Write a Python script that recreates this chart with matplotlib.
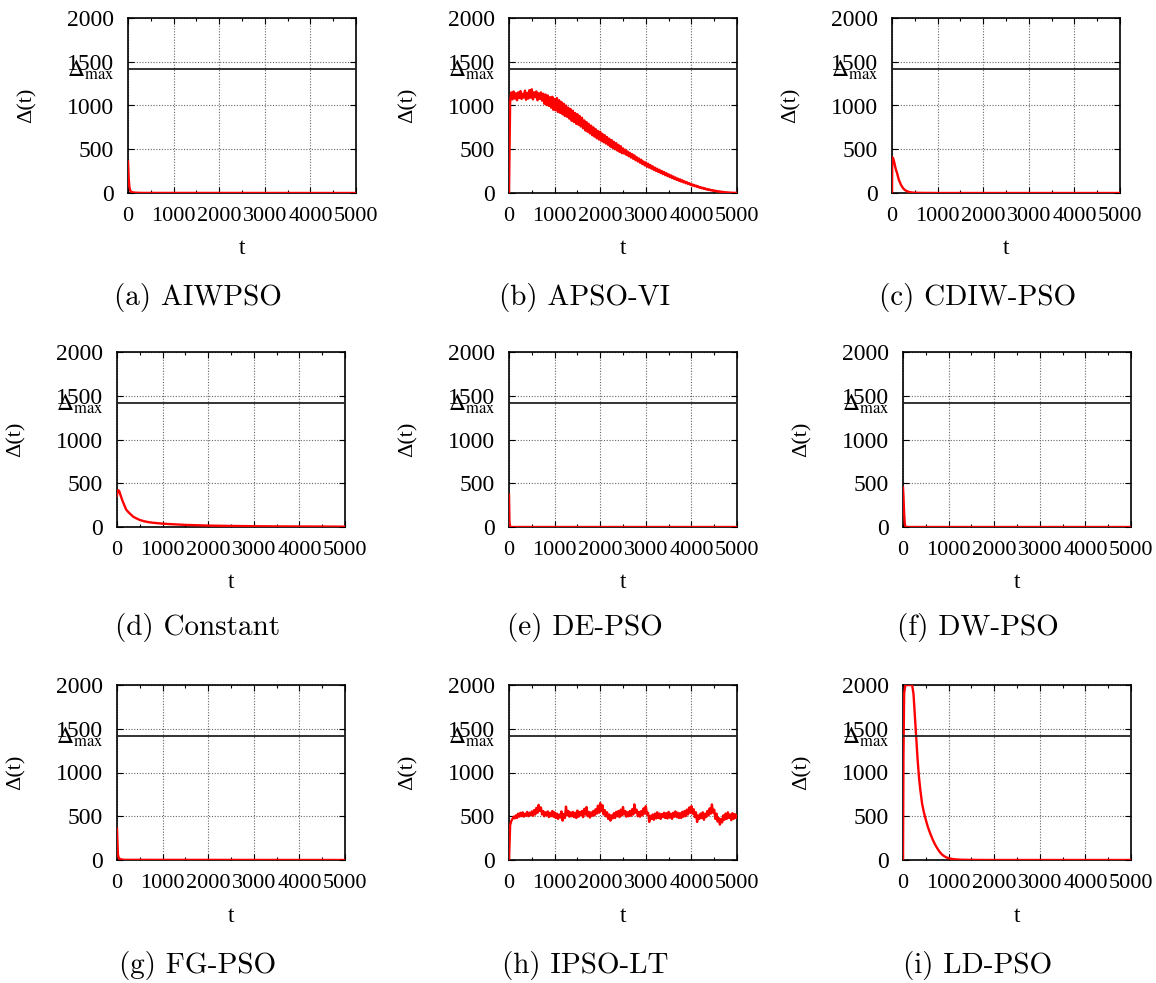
import matplotlib.pyplot as plt
from matplotlib.ticker import MultipleLocator
import numpy as np

# panel names (captions)
captions = ['(a) AIWPSO', '(b) APSO-VI', '(c) CDIW-PSO',
            '(d) Constant', '(e) DE-PSO', '(f) DW-PSO',
            '(g) FG-PSO', '(h) IPSO-LT', '(i) LD-PSO']

delta_max = 1414

# values, one (t, delta) pair of lists per panel
t_a = [0, 5, 15, 30, 50, 80, 150, 300, 5000]
d_a = [360, 300, 170, 70, 25, 10, 4, 1, 0]

# APSO-VI is sampled every 25 iterations
t_b = list(range(0, 5001, 25))
d_b = [0, 1040, 1150, 1070, 1160, 1080, 1140, 1060, 1150, 1085,
       1165, 1075, 1135, 1090, 1170, 1065, 1145, 1080, 1175, 1090,
       1185, 1070, 1150, 1095, 1160, 1060, 1140, 1075, 1150, 1055,
       1135, 1020, 1125, 1005, 1115, 995, 1095, 975, 1100, 950,
       1075, 945, 1085, 925, 1060, 915, 1040, 900, 1020, 880,
       1000, 870, 975, 850, 960, 825, 940, 810, 915, 790,
       900, 780, 880, 760, 860, 740, 830, 715, 810, 700,
       790, 680, 770, 660, 750, 645, 730, 625, 710, 610,
       700, 595, 675, 580, 660, 565, 640, 550, 620, 530,
       605, 515, 585, 500, 570, 485, 550, 470, 535, 455,
       510, 450, 495, 435, 475, 420, 460, 405, 445, 390,
       430, 375, 410, 360, 395, 345, 380, 330, 360, 315,
       350, 300, 335, 290, 320, 278, 305, 265, 290, 252,
       278, 240, 265, 228, 252, 216, 240, 204, 226, 193,
       214, 182, 202, 171, 190, 160, 178, 150, 166, 140,
       156, 130, 145, 121, 134, 112, 124, 103, 114, 94,
       104, 85, 94, 77, 85, 69, 76, 61, 68, 54,
       60, 47, 53, 41, 46, 35, 40, 30, 34, 25,
       29, 21, 24, 17, 20, 13, 16, 10, 12, 7,
       9, 5, 7, 4, 5, 2, 3, 1, 2, 1,
       1]

t_c = [0, 5, 15, 25, 35, 50, 70, 90, 110, 130, 150, 175, 200, 225, 250,
       275, 300, 350, 400, 450, 500, 600, 700, 800, 1000, 2000, 3000, 4000, 5000]
d_c = [0, 360, 405, 395, 380, 350, 300, 260, 230, 190, 150, 120, 90, 70, 50,
       38, 28, 16, 9, 5, 3, 2, 1, 1, 0, 0, 0, 0, 0]

t_d = [0, 10, 30, 50, 80, 120, 160, 200, 250, 300, 350, 400, 500, 600, 700,
       800, 1000, 1200, 1500, 2000, 2500, 3000, 3500, 4000, 4500, 5000]
d_d = [360, 400, 420, 410, 360, 300, 250, 200, 170, 145, 120, 105, 80, 65, 55,
       48, 38, 32, 24, 16, 12, 9, 7, 6, 5, 4]

t_e = [0, 5, 10, 20, 40, 5000]
d_e = [370, 200, 60, 10, 0, 0]

t_f = [0, 10, 25, 40, 60, 5000]
d_f = [450, 350, 150, 30, 0, 0]

t_g = [0, 10, 20, 40, 80, 150, 5000]
d_g = [360, 200, 60, 20, 8, 2, 0]

# IPSO-LT is sampled every 25 iterations
t_h = list(range(0, 5001, 25))
d_h = [0, 400, 445, 470, 495, 475, 510, 480, 530, 495,
       540, 500, 545, 495, 530, 505, 550, 500, 540, 510,
       555, 505, 570, 520, 595, 540, 630, 560, 600, 520,
       560, 500, 545, 510, 555, 490, 540, 500, 560, 495,
       545, 480, 530, 470, 520, 485, 555, 450, 525, 480,
       610, 510, 560, 495, 545, 500, 550, 490, 540, 480,
       565, 495, 550, 510, 560, 490, 585, 520, 605, 500,
       550, 485, 545, 505, 560, 510, 580, 530, 620, 540,
       650, 560, 625, 520, 570, 500, 545, 470, 520, 450,
       510, 475, 535, 480, 550, 500, 560, 490, 575, 510,
       605, 520, 560, 495, 545, 500, 560, 505, 580, 520,
       635, 540, 575, 500, 550, 495, 560, 510, 590, 530,
       615, 520, 540, 435, 505, 470, 520, 460, 530, 475,
       545, 480, 530, 470, 525, 490, 540, 480, 535, 475,
       550, 485, 530, 470, 540, 495, 555, 490, 540, 480,
       535, 480, 550, 495, 560, 500, 575, 520, 600, 540,
       615, 530, 580, 490, 545, 435, 510, 470, 530, 480,
       545, 460, 530, 490, 560, 510, 590, 530, 635, 540,
       575, 470, 530, 440, 480, 405, 470, 430, 510, 460,
       530, 470, 545, 480, 520, 455, 535, 470, 525, 480,
       510]

t_i = [0, 10, 25, 50, 100, 150, 200, 230, 260, 290, 320, 350, 380, 420, 460,
       500, 550, 600, 650, 700, 750, 800, 850, 900, 950, 1000, 1100, 1200,
       1300, 1400, 1600, 2000, 3000, 4000, 5000]
d_i = [0, 1200, 1900, 2000, 2000, 2000, 2000, 1900, 1650, 1400, 1150, 950,
       800, 640, 540, 460, 370, 300, 235, 180, 135, 95, 65, 45, 30, 20, 10, 5,
       3, 2, 1, 0, 0, 0, 0]

series = [(t_a, d_a), (t_b, d_b), (t_c, d_c),
          (t_d, d_d), (t_e, d_e), (t_f, d_f),
          (t_g, d_g), (t_h, d_h), (t_i, d_i)]

# layout in pixels (fig is 1156 x 983)
W, H = 1156, 983
lefts = [128, 509, 892, 117, 509, 903, 117, 509, 903]
tops = [18, 18, 18, 352, 352, 352, 685, 685, 685]
ax_w, ax_h = 228, 175
cap_x = [198, 585, 978]
cap_y = [297, 628, 965]

tick_font = 'Liberation Serif'

fig = plt.figure(figsize=(W / 100, H / 100), dpi=100)

for k in range(9):
    t, d = series[k]
    ax = fig.add_axes([lefts[k] / W, 1 - (tops[k] + ax_h) / H, ax_w / W, ax_h / H])

    ax.plot(t, d, color='red', lw=1.7, zorder=3)
    ax.axhline(delta_max, color='#222222', lw=1.3, zorder=4)

    ax.set_xlim(0, 5000)
    ax.set_ylim(0, 2000)
    ax.xaxis.set_major_locator(MultipleLocator(1000))
    ax.xaxis.set_minor_locator(MultipleLocator(500))
    ax.yaxis.set_major_locator(MultipleLocator(500))

    ax.grid(True, which='major', color='#666666', lw=0.8, linestyle=(0, (1, 1.5)))
    ax.tick_params(which='both', direction='in', top=True, right=True, width=0.8)
    ax.tick_params(which='major', length=4)
    ax.tick_params(which='minor', length=2.5)
    ax.tick_params(axis='y', pad=10, labelsize=17)
    ax.tick_params(axis='x', pad=10, labelsize=16)
    for lab in ax.get_xticklabels() + ax.get_yticklabels():
        lab.set_fontfamily(tick_font)
    for sp in ax.spines.values():
        sp.set_linewidth(1.2)

    ax.set_xlabel('t', fontsize=17, fontfamily=tick_font)
    ax.set_ylabel('Δ(t)', fontsize=16, fontfamily=tick_font)
    ax.xaxis.set_label_coords(0.5, -0.26)
    ax.yaxis.set_label_coords(-0.40, 0.5)

    ax.annotate(r'$\Delta_{\mathrm{max}}$', xy=(0, delta_max),
                xycoords=('axes fraction', 'data'), xytext=(-10, -5),
                textcoords='offset points', ha='right', va='baseline',
                fontsize=17, math_fontfamily='stix', annotation_clip=False)

    col = k % 3
    row = k // 3
    fig.text(cap_x[col] / W, 1 - cap_y[row] / H, captions[k],
             fontsize=21, fontfamily='cmr10', ha='center', va='center')

fig.savefig('out.png', dpi=100)
